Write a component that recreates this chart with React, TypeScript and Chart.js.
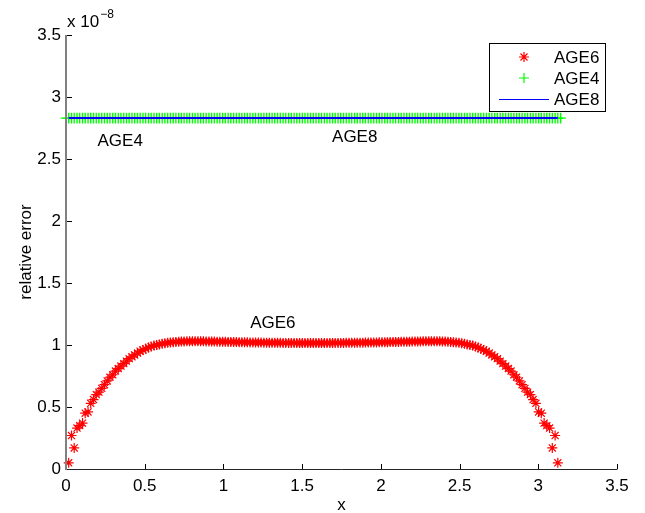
import React, { useEffect, useRef } from "react";
import { Chart, registerables } from "chart.js";

Chart.register(...registerables);

// x grid (radians, 1 degree apart, 0 .. pi)
const xGrid = [
  0, 0.017, 0.035, 0.052, 0.07, 0.087, 0.105, 0.122, 0.14, 0.157,
  0.175, 0.192, 0.209, 0.227, 0.244, 0.262, 0.279, 0.297, 0.314, 0.332,
  0.349, 0.367, 0.384, 0.401, 0.419, 0.436, 0.454, 0.471, 0.489, 0.506,
  0.524, 0.541, 0.559, 0.576, 0.593, 0.611, 0.628, 0.646, 0.663, 0.681,
  0.698, 0.716, 0.733, 0.75, 0.768, 0.785, 0.803, 0.82, 0.838, 0.855,
  0.873, 0.89, 0.908, 0.925, 0.942, 0.96, 0.977, 0.995, 1.012, 1.03,
  1.047, 1.065, 1.082, 1.1, 1.117, 1.134, 1.152, 1.169, 1.187, 1.204,
  1.222, 1.239, 1.257, 1.274, 1.292, 1.309, 1.326, 1.344, 1.361, 1.379,
  1.396, 1.414, 1.431, 1.449, 1.466, 1.484, 1.501, 1.518, 1.536, 1.553,
  1.571, 1.588, 1.606, 1.623, 1.641, 1.658, 1.676, 1.693, 1.71, 1.728,
  1.745, 1.763, 1.78, 1.798, 1.815, 1.833, 1.85, 1.868, 1.885, 1.902,
  1.92, 1.937, 1.955, 1.972, 1.99, 2.007, 2.025, 2.042, 2.059, 2.077,
  2.094, 2.112, 2.129, 2.147, 2.164, 2.182, 2.199, 2.217, 2.234, 2.251,
  2.269, 2.286, 2.304, 2.321, 2.339, 2.356, 2.374, 2.391, 2.409, 2.426,
  2.443, 2.461, 2.478, 2.496, 2.513, 2.531, 2.548, 2.566, 2.583, 2.601,
  2.618, 2.635, 2.653, 2.67, 2.688, 2.705, 2.723, 2.74, 2.758, 2.775,
  2.793, 2.81, 2.827, 2.845, 2.862, 2.88, 2.897, 2.915, 2.932, 2.95,
  2.967, 2.985, 3.002, 3.019, 3.037, 3.054, 3.072, 3.089, 3.107, 3.124,
  3.142,
];

// relative error, in units of 1e-8
const age6 = [
  null,
  0.05, 0.27, 0.17, 0.33, 0.35, 0.37, 0.45, 0.46, 0.53, 0.56,
  0.6, 0.62, 0.65, 0.68, 0.71, 0.74, 0.76, 0.79, 0.81, 0.83,
  0.85, 0.87, 0.89, 0.905, 0.92, 0.935, 0.95, 0.96, 0.97, 0.98,
  0.988, 0.995, 1.0, 1.005, 1.01, 1.015, 1.018, 1.02, 1.023, 1.025,
  1.027, 1.028, 1.029, 1.03, 1.03, 1.03, 1.03, 1.03, 1.03, 1.03,
  1.029, 1.029, 1.028, 1.028, 1.027, 1.027, 1.026, 1.026, 1.025, 1.025,
  1.024, 1.024, 1.023, 1.023, 1.022, 1.022, 1.021, 1.021, 1.02, 1.02,
  1.02, 1.019, 1.019, 1.019, 1.018, 1.018, 1.018, 1.018, 1.017, 1.017,
  1.017, 1.017, 1.017, 1.016, 1.016, 1.016, 1.016, 1.016, 1.016, 1.016,
  1.016, 1.016, 1.016, 1.016, 1.016, 1.016, 1.017, 1.017, 1.017,
  1.017, 1.017, 1.018, 1.018, 1.018, 1.018, 1.019, 1.019, 1.019, 1.02,
  1.02, 1.02, 1.021, 1.021, 1.022, 1.022, 1.023, 1.023, 1.024, 1.024,
  1.025, 1.025, 1.026, 1.026, 1.027, 1.027, 1.028, 1.028, 1.029, 1.029,
  1.03, 1.03, 1.03, 1.03, 1.03, 1.03, 1.03, 1.029, 1.028, 1.027,
  1.025, 1.023, 1.02, 1.018, 1.015, 1.01, 1.005, 1.0, 0.995, 0.988,
  0.98, 0.97, 0.96, 0.95, 0.935, 0.92, 0.905, 0.89, 0.87, 0.85,
  0.83, 0.81, 0.79, 0.76, 0.74, 0.71, 0.68, 0.65, 0.62, 0.6,
  0.56, 0.53, 0.46, 0.45, 0.37, 0.35, 0.33, 0.17, 0.27, 0.05,
  null,
];

const age4 = [
  2.83, 2.83, 2.83, 2.83, 2.83, 2.83, 2.83, 2.83, 2.83, 2.83,
  2.83, 2.83, 2.83, 2.83, 2.83, 2.83, 2.83, 2.83, 2.83, 2.83,
  2.83, 2.83, 2.83, 2.83, 2.83, 2.83, 2.83, 2.83, 2.83, 2.83,
  2.83, 2.83, 2.83, 2.83, 2.83, 2.83, 2.83, 2.83, 2.83, 2.83,
  2.83, 2.83, 2.83, 2.83, 2.83, 2.83, 2.83, 2.83, 2.83, 2.83,
  2.83, 2.83, 2.83, 2.83, 2.83, 2.83, 2.83, 2.83, 2.83, 2.83,
  2.83, 2.83, 2.83, 2.83, 2.83, 2.83, 2.83, 2.83, 2.83, 2.83,
  2.83, 2.83, 2.83, 2.83, 2.83, 2.83, 2.83, 2.83, 2.83, 2.83,
  2.83, 2.83, 2.83, 2.83, 2.83, 2.83, 2.83, 2.83, 2.83, 2.83,
  2.83, 2.83, 2.83, 2.83, 2.83, 2.83, 2.83, 2.83, 2.83, 2.83,
  2.83, 2.83, 2.83, 2.83, 2.83, 2.83, 2.83, 2.83, 2.83, 2.83,
  2.83, 2.83, 2.83, 2.83, 2.83, 2.83, 2.83, 2.83, 2.83, 2.83,
  2.83, 2.83, 2.83, 2.83, 2.83, 2.83, 2.83, 2.83, 2.83, 2.83,
  2.83, 2.83, 2.83, 2.83, 2.83, 2.83, 2.83, 2.83, 2.83, 2.83,
  2.83, 2.83, 2.83, 2.83, 2.83, 2.83, 2.83, 2.83, 2.83, 2.83,
  2.83, 2.83, 2.83, 2.83, 2.83, 2.83, 2.83, 2.83, 2.83, 2.83,
  2.83, 2.83, 2.83, 2.83, 2.83, 2.83, 2.83, 2.83, 2.83, 2.83,
  2.83, 2.83, 2.83, 2.83, 2.83, 2.83, 2.83, 2.83, 2.83, 2.83,
  2.83,
];

const age8 = [
  null,
  2.83, 2.83, 2.83, 2.83, 2.83, 2.83, 2.83, 2.83, 2.83, 2.83,
  2.83, 2.83, 2.83, 2.83, 2.83, 2.83, 2.83, 2.83, 2.83, 2.83,
  2.83, 2.83, 2.83, 2.83, 2.83, 2.83, 2.83, 2.83, 2.83, 2.83,
  2.83, 2.83, 2.83, 2.83, 2.83, 2.83, 2.83, 2.83, 2.83, 2.83,
  2.83, 2.83, 2.83, 2.83, 2.83, 2.83, 2.83, 2.83, 2.83, 2.83,
  2.83, 2.83, 2.83, 2.83, 2.83, 2.83, 2.83, 2.83, 2.83, 2.83,
  2.83, 2.83, 2.83, 2.83, 2.83, 2.83, 2.83, 2.83, 2.83, 2.83,
  2.83, 2.83, 2.83, 2.83, 2.83, 2.83, 2.83, 2.83, 2.83, 2.83,
  2.83, 2.83, 2.83, 2.83, 2.83, 2.83, 2.83, 2.83, 2.83, 2.83,
  2.83, 2.83, 2.83, 2.83, 2.83, 2.83, 2.83, 2.83, 2.83,
  2.83, 2.83, 2.83, 2.83, 2.83, 2.83, 2.83, 2.83, 2.83, 2.83,
  2.83, 2.83, 2.83, 2.83, 2.83, 2.83, 2.83, 2.83, 2.83, 2.83,
  2.83, 2.83, 2.83, 2.83, 2.83, 2.83, 2.83, 2.83, 2.83, 2.83,
  2.83, 2.83, 2.83, 2.83, 2.83, 2.83, 2.83, 2.83, 2.83, 2.83,
  2.83, 2.83, 2.83, 2.83, 2.83, 2.83, 2.83, 2.83, 2.83, 2.83,
  2.83, 2.83, 2.83, 2.83, 2.83, 2.83, 2.83, 2.83, 2.83, 2.83,
  2.83, 2.83, 2.83, 2.83, 2.83, 2.83, 2.83, 2.83, 2.83, 2.83,
  2.83, 2.83, 2.83, 2.83, 2.83, 2.83, 2.83, 2.83, 2.83, 2.83,
  null,
];

const seriesNames = ["AGE6", "AGE4", "AGE8"];
const xTicks = [0, 0.5, 1, 1.5, 2, 2.5, 3, 3.5];
const yTicks = [0, 0.5, 1, 1.5, 2, 2.5, 3, 3.5];
const xTitle = "x";
const yTitle = "relative error";
const expBase = "x 10";
const expPower = "\u22128";
const textLabels = [
  { text: "AGE4", x: 0.2, y: 2.65 },
  { text: "AGE8", x: 1.69, y: 2.69 },
  { text: "AGE6", x: 1.17, y: 1.185 },
];

const FAMILY = "'Liberation Sans', Arial, Helvetica, sans-serif";
const FS = 17;

function drawStar(ctx: CanvasRenderingContext2D, x: number, y: number, r: number) {
  const d = r * Math.SQRT1_2;
  ctx.beginPath();
  ctx.moveTo(x - r, y); ctx.lineTo(x + r, y);
  ctx.moveTo(x, y - r); ctx.lineTo(x, y + r);
  ctx.moveTo(x - d, y - d); ctx.lineTo(x + d, y + d);
  ctx.moveTo(x - d, y + d); ctx.lineTo(x + d, y - d);
  ctx.stroke();
}
function drawCross(ctx: CanvasRenderingContext2D, x: number, y: number, r: number) {
  ctx.beginPath();
  ctx.moveTo(x - r, y); ctx.lineTo(x + r, y);
  ctx.moveTo(x, y - r); ctx.lineTo(x, y + r);
  ctx.stroke();
}

const decor = {
  id: "matlabDecor",
  afterDatasetsDraw(chart: any) {
    const { ctx, chartArea, scales } = chart;
    const xs = scales.x;
    const ys = scales.y;
    const L = chartArea.left, R = chartArea.right, T = chartArea.top, B = chartArea.bottom;
    ctx.save();

    // tick marks (inside)
    ctx.strokeStyle = "#000";
    ctx.lineWidth = 1;
    ctx.beginPath();
    xTicks.forEach((v) => {
      const px = Math.round(xs.getPixelForValue(v)) + 0.5;
      ctx.moveTo(px, B);
      ctx.lineTo(px, B - 5);
    });
    yTicks.forEach((v) => {
      const py = Math.round(ys.getPixelForValue(v)) + 0.5;
      ctx.moveTo(L, py);
      ctx.lineTo(L + 6, py);
    });
    ctx.stroke();

    // axes
    ctx.strokeStyle = "#262626";
    ctx.lineWidth = 1;
    ctx.beginPath();
    ctx.moveTo(L, B + 0.5);
    ctx.lineTo(R + 0.5, B + 0.5);
    ctx.stroke();
    ctx.strokeStyle = "#808080";
    ctx.lineWidth = 2;
    ctx.beginPath();
    ctx.moveTo(L, T);
    ctx.lineTo(L, B + 1);
    ctx.stroke();

    // text annotations
    ctx.fillStyle = "#000";
    ctx.font = `${FS}px ${FAMILY}`;
    ctx.textAlign = "left";
    ctx.textBaseline = "alphabetic";
    const cap = FS * 0.716;
    textLabels.forEach((t) => {
      ctx.fillText(t.text, xs.getPixelForValue(t.x), ys.getPixelForValue(t.y) + cap / 2);
    });

    // exponent
    ctx.fillText(expBase, L + 1, 27);
    const w = ctx.measureText(expBase).width;
    ctx.font = `12px ${FAMILY}`;
    ctx.fillText(expPower, L + 1 + w + 1, 18);

    // legend
    const ds = chart.data.datasets;
    const bx = 489.5, by = 43.5, bw = 116, bh = 68;
    ctx.fillStyle = "#fff";
    ctx.fillRect(bx, by, bw, bh);
    ctx.strokeStyle = "#000";
    ctx.lineWidth = 1;
    ctx.strokeRect(bx, by, bw, bh);
    ctx.font = `${FS}px ${FAMILY}`;
    ctx.fillStyle = "#000";
    const rows = [57, 78, 99];
    rows.forEach((ry, i) => {
      ctx.fillText(ds[i].label, 554, ry + cap / 2);
    });
    ctx.strokeStyle = ds[0].borderColor;
    ctx.lineWidth = 1.2;
    drawStar(ctx, 524, rows[0], 5);
    ctx.strokeStyle = ds[1].borderColor;
    ctx.lineWidth = 1.2;
    drawCross(ctx, 524, rows[1], 5);
    ctx.strokeStyle = ds[2].borderColor;
    ctx.lineWidth = 1;
    ctx.beginPath();
    ctx.moveTo(499, rows[2] + 0.5);
    ctx.lineTo(549, rows[2] + 0.5);
    ctx.stroke();

    ctx.restore();
  },
};

export default function App() {
  const ref = useRef<HTMLCanvasElement>(null);
  useEffect(() => {
    document.body.style.margin = "0";
    const pts = (vals: (number | null)[]) =>
      xGrid.map((x, i) => ({ x, y: vals[i] })).filter((p) => p.y !== null);
    const font = { family: FAMILY, size: FS };
    const chart = new Chart(ref.current as HTMLCanvasElement, {
      type: "scatter",
      data: {
        datasets: [
          {
            label: seriesNames[0],
            data: pts(age6) as any,
            pointStyle: "star",
            pointRadius: 5,
            pointBorderWidth: 1.2,
            borderColor: "#ff0000",
            backgroundColor: "#ff0000",
            showLine: false,
            order: 2,
            clip: false as any,
          },
          {
            label: seriesNames[1],
            data: pts(age4) as any,
            pointStyle: "cross",
            pointRadius: 5.3,
            pointBorderWidth: 1.4,
            borderColor: "#00ff00",
            backgroundColor: "#00ff00",
            showLine: false,
            order: 1,
            clip: false as any,
          },
          {
            label: seriesNames[2],
            data: pts(age8) as any,
            showLine: true,
            pointRadius: 0,
            borderColor: "#0000ff",
            borderWidth: 2,
            order: 0,
            clip: false as any,
          },
        ],
      },
      options: {
        animation: false,
        responsive: false,
        maintainAspectRatio: false,
        events: [],
        layout: { padding: { top: 35, right: 28, left: 0, bottom: 0 } },
        plugins: { legend: { display: false }, tooltip: { enabled: false } },
        scales: {
          x: {
            type: "linear",
            min: 0,
            max: 3.5,
            border: { display: false },
            grid: { display: false, drawTicks: false },
            ticks: {
              font,
              color: "#000",
              padding: 7,
              maxRotation: 0,
              autoSkip: false,
              callback: (v: any) => String(v),
            },
            title: { display: true, text: xTitle, font, color: "#000", padding: { top: 0, bottom: -3 } },
            afterBuildTicks: (s: any) => {
              s.ticks = xTicks.map((v) => ({ value: v }));
            },
            afterFit: (s: any) => {
              s.height = 44;
            },
          },
          y: {
            type: "linear",
            min: 0,
            max: 3.5,
            border: { display: false },
            grid: { display: false, drawTicks: false },
            ticks: {
              font,
              color: "#000",
              padding: 5,
              autoSkip: false,
              callback: (v: any) => String(v),
            },
            title: { display: true, text: yTitle, font, color: "#000", padding: { top: 16, bottom: 0 } },
            afterBuildTicks: (s: any) => {
              s.ticks = yTicks.map((v) => ({ value: v }));
            },
            afterFit: (s: any) => {
              s.width = 66;
            },
          },
        },
      },
      plugins: [decor],
    });
    return () => chart.destroy();
  }, []);
  return <canvas ref={ref} width={645} height={513} style={{ display: "block" }} />;
}
